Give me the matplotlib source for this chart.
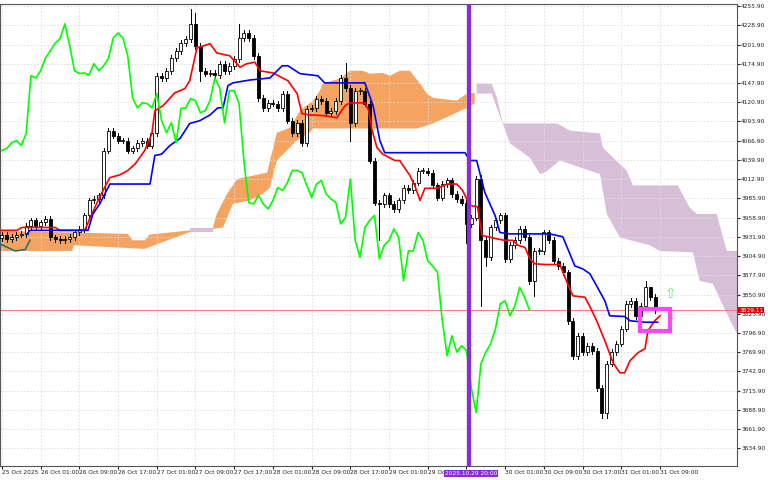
import numpy as np
import matplotlib
matplotlib.use('Agg')
import matplotlib.pyplot as plt

# H1 closes, 25 Oct 17:00 onwards
closes = [3934, 3929, 3932, 3935, 3936, 3947, 3955, 3947, 3952, 3957,
          3931, 3929, 3927, 3929, 3932, 3938, 3943, 3962, 3983, 3985,
          3990, 4053, 4081, 4074, 4067, 4067, 4053, 4056, 4064, 4067,
          4060, 4077, 4158, 4155, 4165, 4183, 4193, 4204, 4210, 4231,
          4200, 4165, 4161, 4162, 4159, 4175, 4165, 4172,
          4182, 4211, 4218, 4211, 4186, 4127, 4113, 4120, 4119, 4113,
          4133, 4095, 4078, 4092, 4064, 4112, 4113, 4126, 4123, 4106,
          4109, 4123, 4155, 4141, 4092, 4137, 4137, 4119, 4039, 3980,
          3978, 3990, 3978, 3971, 3983, 4001, 3997, 4008, 4025, 4025,
          4022, 4004, 3987, 4006, 4011, 3992, 3985, 3980, 3950, 3959,
          4013, 3927, 3903, 3945, 3955, 3962, 3901, 3920, 3927, 3943,
          3931, 3870, 3912, 3912, 3938, 3927, 3898, 3891, 3882, 3814,
          3765, 3793, 3770, 3779, 3772, 3720, 3685, 3754, 3770, 3782,
          3803, 3838, 3842, 3821, 3835, 3861, 3847, 3829.11]
first_open = 3930
# notable wicks: bar -> (high, low)
wicks = {39: (4252, None), 40: (4246, None), 41: (None, 4151), 49: (4231, None),
         71: (4176, None), 72: (None, 4067), 78: (None, 3927), 96: (None, 3923),
         99: (4018, 3835), 100: (None, 3891), 110: (None, 3849),
         124: (None, 3677), 125: (None, 3677), 133: (3870, None), 134: (3861, None)}

tenkan = [(-0.4, 3941), (3.1, 3941), (4.1, 3945), (11, 3945), (12, 3941), (17.1, 3941),
          (18.6, 3964), (20.2, 3988), (22.3, 4015), (24.4, 4019), (26, 4025), (27.5, 4034),
          (29.5, 4053), (31, 4077), (31.6, 4109), (33.3, 4116), (35.7, 4134), (37.8, 4140),
          (38.8, 4151), (40.3, 4197), (43, 4203), (44.4, 4190), (47.1, 4186), (49.2, 4170),
          (50.6, 4175), (52.3, 4177), (53.3, 4165), (56, 4162), (59.1, 4151), (61, 4133),
          (62, 4105), (63.6, 4103), (66.7, 4102), (69.2, 4099), (70.9, 4116), (71.9, 4120),
          (75, 4120), (75.8, 4109), (76.4, 4084), (77.5, 4057), (78.7, 4048), (81.2, 4039),
          (82.2, 4039), (84.3, 4018), (85.3, 4004), (86.4, 3983), (87.4, 4000), (89.9, 4000),
          (92.1, 4006), (94, 4006), (95.2, 3997), (96.7, 3976), (98.3, 3974), (99.2, 3934),
          (102.3, 3929), (103.9, 3927), (105.6, 3927), (106.6, 3920), (108.1, 3917),
          (109.1, 3901), (110.1, 3894), (112.2, 3893), (115.3, 3893), (116.9, 3866),
          (118, 3849), (120.5, 3847), (121.5, 3834), (122.9, 3814), (124.6, 3786),
          (126.3, 3755), (127.7, 3741), (128.7, 3741), (129.8, 3758), (131.4, 3769),
          (132.9, 3775), (133.5, 3800), (134.9, 3814), (136, 3821)]
kijun = [(5.2, 3936), (5.8, 3941), (17.8, 3941), (18.8, 3964), (20.2, 3978), (22.3, 4006),
         (30.6, 4006), (31.6, 4046), (33, 4048), (34.7, 4060), (36.8, 4070), (38.8, 4091),
         (40.9, 4095), (43, 4103), (44.6, 4113), (45.7, 4113), (46.7, 4144), (47.7, 4148),
         (51.2, 4152), (55.4, 4155), (57.9, 4172), (59.1, 4172), (61.6, 4161), (65.3, 4158),
         (66.7, 4148), (75, 4148), (76.7, 4116), (78.1, 4067), (79.1, 4050), (95.7, 4050),
         (96.7, 4039), (98.1, 4039), (99.8, 3994), (101.9, 3962), (102.9, 3938), (105, 3936),
         (113.2, 3936), (115.9, 3932), (118.4, 3891), (120, 3887), (121.5, 3880),
         (122.9, 3863), (124.6, 3842), (125.6, 3821), (128.7, 3820), (129.8, 3814),
         (132.9, 3812), (135.5, 3812)]
kijun_early = [(-0.4, 3922), (2.7, 3912), (4.8, 3914), (5.8, 3927)]

# kumo outlines (upper edge, lower edge)
orange1_top = [(-0.4, 3940), (14.5, 3938), (26, 3936), (27, 3927), (29.5, 3927), (30.5, 3935), (39, 3941)]
orange1_bot = [(-0.4, 3912), (14.5, 3912), (14.8, 3920), (29.5, 3915), (39, 3939)]
lilac1_top = [(38.8, 3944), (43.6, 3944)]
lilac1_bot = [(38.8, 3939), (43.6, 3939)]
orange2_top = [(43.6, 3945), (44.4, 3964), (46.5, 3992), (48.6, 4013), (54.8, 4022), (56.8, 4078),
               (59.5, 4085), (61.6, 4109), (64.3, 4123), (65.7, 4137), (66.3, 4147), (69.8, 4154),
               (71.9, 4165), (74.6, 4165), (76.0, 4161), (78.7, 4162), (80.2, 4158), (82.2, 4165),
               (84.3, 4165), (86.4, 4147), (87.8, 4133), (89.1, 4127), (94.0, 4123), (96.1, 4133),
               (97.7, 4134)]
orange2_bot = [(43.6, 3943), (45.7, 3945), (47.7, 3978), (51.2, 3983), (53.9, 3992), (55.4, 4001),
               (56.8, 4039), (60.9, 4067), (63.6, 4078), (64.3, 4084), (85.8, 4084), (89.1, 4091),
               (96.1, 4113), (97.7, 4119)]
lilac2_top = [(98.1, 4147), (101.2, 4147), (102.3, 4127), (103.5, 4091), (114.7, 4091), (117.4, 4081),
              (123.6, 4077), (124.2, 4057), (127.7, 4034), (129.1, 4025), (130.4, 4004), (139.7, 4004),
              (142.1, 3973), (143.6, 3964), (147.7, 3964), (149.8, 3912), (151.9, 3912)]
lilac2_bot = [(98.1, 4133), (101.2, 4133), (105.0, 4063), (109.1, 4043), (111.2, 4020), (112.2, 4022),
              (115.3, 4039), (123.6, 4020), (125.0, 3964), (127.7, 3931), (133.9, 3920), (136.0, 3912),
              (142.8, 3910), (144.2, 3870), (146.9, 3866), (149.8, 3824), (151.9, 3796)]

price_ticks = [4255.9 - 27 * k for k in range(24)]
time_labels = ['25 Oct 2025', '26 Oct 01:00', '26 Oct 09:00', '26 Oct 17:00', '27 Oct 01:00',
               '27 Oct 09:00', '27 Oct 17:00', '28 Oct 01:00', '28 Oct 09:00', '28 Oct 17:00',
               '29 Oct 01:00', '29 Oct 09:00', '', '30 Oct 01:00', '30 Oct 09:00',
               '30 Oct 17:00', '31 Oct 01:00', '31 Oct 09:00']
last_price = 3829.11
vline_bar = 96.5

fig = plt.figure(figsize=(7.68, 4.8), dpi=100)
ax = fig.add_axes([0.0, 0.029, 0.9596, 0.963])
ax.set_xlim(-0.4, 151.9)
ax.set_ylim(3610, 4259)


def poly(top, bot, color):
    pts = top + bot[::-1]
    ax.fill([p[0] for p in pts], [p[1] for p in pts], color=color, lw=0, zorder=1)


orange = '#F4A460'
lilac = '#D8BFD8'
poly(orange1_top, orange1_bot, orange)
poly(lilac1_top, lilac1_bot, lilac)
poly(orange2_top, orange2_bot, orange)
poly(lilac2_top, lilac2_bot, lilac)

# candles
n = len(closes)
opens = [first_open] + closes[:-1]
for i in range(n):
    o, c = opens[i], closes[i]
    hi, lo = max(o, c) + 4, min(o, c) - 4
    if i in wicks:
        if wicks[i][0]:
            hi = wicks[i][0]
        if wicks[i][1]:
            lo = wicks[i][1]
    ax.plot([i, i], [lo, hi], color='black', lw=0.7, zorder=3)
    bull = c >= o
    ax.bar(i, max(abs(c - o), 0.8), bottom=min(o, c), width=0.62,
           color='white' if bull else 'black', edgecolor='black', lw=0.6, zorder=4)

ax.plot([p[0] for p in tenkan], [p[1] for p in tenkan], color='red', lw=1.2, zorder=5)
ax.plot([p[0] for p in kijun], [p[1] for p in kijun], color='blue', lw=1.2, zorder=5)
ax.plot([p[0] for p in kijun_early], [p[1] for p in kijun_early], color='#2F6F6F', lw=1.2, zorder=5)
chikou_x = np.arange(n - 26)
ax.plot(chikou_x, closes[26:], color='#00FF00', lw=1.2, zorder=5)

ax.axhline(last_price, color='#F08080', lw=0.8, zorder=2)
ax.axvline(vline_bar, color='#8A2BE2', lw=3, zorder=6)

ax.add_patch(plt.Rectangle((131.8, 3800), 6.2, 30, fill=False, edgecolor='#FF44FF', lw=3, zorder=7))
ax.text(138.2, 3842, '\u21e7', color='#66EE66', fontsize=10, ha='center', va='bottom', zorder=7)
ax.text(138.2, 3826, '\u21e9', color='#FF7070', fontsize=7, ha='center', va='top', zorder=7)

# axes, grid
ax.yaxis.tick_right()
ax.set_yticks(price_ticks)
ax.set_yticklabels(['%.2f' % p for p in price_ticks])
ax.set_xticks(np.arange(0, 8 * len(time_labels), 8))
ax.set_xticklabels(time_labels, ha='left')
ax.tick_params(labelsize=4.2, length=2, pad=1, colors='#222222')
ax.grid(True, color='#DDDDDD', ls=(0, (2, 2)), lw=0.6, zorder=0)
for s in ax.spines.values():
    s.set_color('#555555')

ax.text(1.003, (last_price - 3610) / (4259 - 3610), '%.2f' % last_price, transform=ax.transAxes,
        fontsize=4.2, color='white', va='center', ha='left',
        bbox=dict(boxstyle='square,pad=0.15', fc='#E00000', ec='none'))
ax.text(vline_bar - 5, 3603, '2025.10.29 20:00', fontsize=4.2, color='white', va='top', ha='left',
        bbox=dict(boxstyle='square,pad=0.15', fc='#8A2BE2', ec='none'), clip_on=False)

fig.savefig('out.png', dpi=100)
